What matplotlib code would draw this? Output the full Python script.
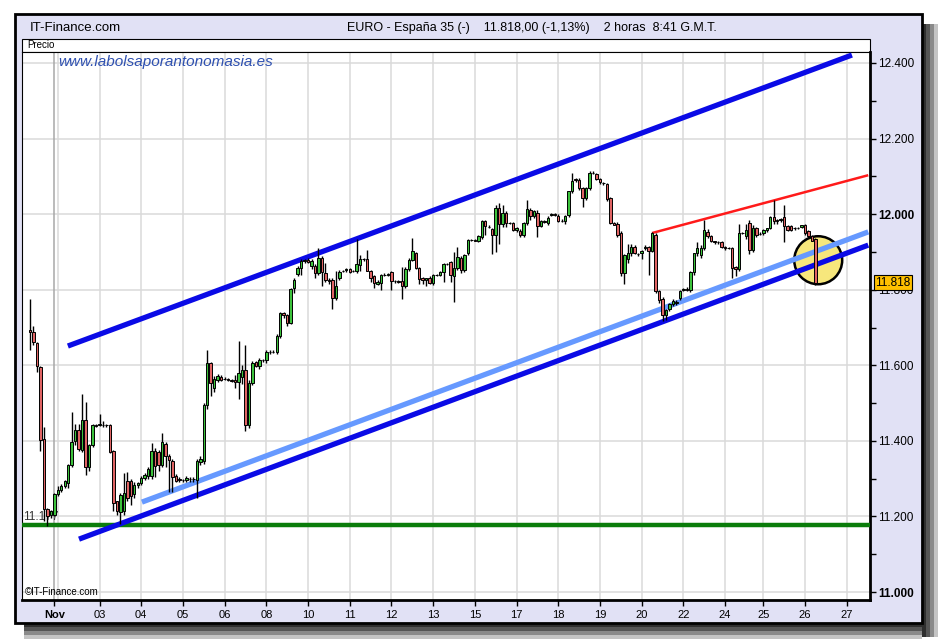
### candlestick chart of the Spanish index (2h bars) with trend channel
import numpy as np
import matplotlib
matplotlib.use('Agg')
import matplotlib.pyplot as plt
from matplotlib.patches import Rectangle, Ellipse
from matplotlib.transforms import blended_transform_factory

# OHLC, one entry per bar
opens = [11693, 11689, 11659, 11596, 11405, 11220, 11203, 11205, 11260, 11271,
         11281, 11288, 11335, 11399, 11428, 11376, 11454, 11332, 11390, 11441,
         11443, 11443, 11441, 11441, 11373, 11240, 11213, 11215, 11295, 11293,
         11259, 11282, 11288, 11301, 11308, 11308, 11373, 11370, 11335, 11393,
         11361, 11348, 11308, 11300, 11297, 11296, 11298, 11300, 11296, 11345,
         11348, 11494, 11606, 11539, 11562, 11570, 11565, 11563, 11560, 11560,
         11556, 11568, 11588, 11441, 11553, 11609, 11598, 11613, 11613, 11634,
         11636, 11634, 11678, 11738, 11733, 11713, 11805, 11842, 11857, 11877,
         11879, 11862, 11862, 11844, 11883, 11844, 11826, 11826, 11777, 11830,
         11850, 11852, 11854, 11850, 11850, 11865, 11880, 11880, 11850, 11835,
         11815, 11817, 11840, 11838, 11846, 11822, 11822, 11822, 11810, 11854,
         11879, 11897, 11857, 11830, 11825, 11830, 11818, 11839, 11838, 11848,
         11869, 11873, 11837, 11858, 11885, 11853, 11897, 11932, 11931, 11928,
         11939, 11981, 11966, 11960, 11944, 12016, 11974, 12004, 11977, 11977,
         11959, 11956, 11945, 11977, 12012, 11995, 12004, 11968, 11982, 11977,
         11998, 12000, 11995, 11983, 11981, 11997, 12060, 12092, 12090, 12069,
         12043, 12070, 12110, 12105, 12092, 12082, 12080, 12043, 11977, 11975,
         11950, 11844, 11880, 11898, 11914, 11895, 11898, 11910, 11912, 11903,
         11946, 11797, 11776, 11733, 11750, 11762, 11766, 11778, 11800, 11802,
         11800, 11846, 11896, 11892, 11910, 11954, 11941, 11928, 11925, 11925,
         11914, 11910, 11910, 11860, 11855, 11950, 11941, 11976, 11905, 11963,
         11948, 11950, 11957, 11963, 11993, 11984, 11984, 11993, 11968, 11968,
         11962, 11963, 11965, 11972, 11955, 11941, 11934]
highs = [11775, 11704, 11662, 11598, 11436, 11222, 11218, 11262, 11280, 11285,
         11296, 11340, 11477, 11446, 11446, 11523, 11503, 11392, 11445, 11444,
         11471, 11452, 11444, 11445, 11376, 11242, 11262, 11314, 11317, 11300,
         11290, 11292, 11306, 11315, 11330, 11395, 11380, 11375, 11420, 11398,
         11365, 11352, 11312, 11305, 11300, 11306, 11304, 11305, 11352, 11360,
         11500, 11640, 11610, 11572, 11578, 11575, 11568, 11566, 11563, 11575,
         11665, 11600, 11655, 11560, 11612, 11612, 11620, 11618, 11640, 11640,
         11640, 11682, 11740, 11742, 11736, 11805, 11830, 11862, 11880, 11882,
         11884, 11880, 11868, 11911, 11890, 11872, 11830, 11830, 11850, 11852,
         11853, 11858, 11858, 11853, 11934, 11892, 11884, 11905, 11853, 11838,
         11825, 11842, 11843, 11843, 11850, 11825, 11825, 11860, 11860, 11885,
         11938, 11900, 11860, 11833, 11832, 11835, 11842, 11842, 11850, 11870,
         11872, 11876, 11900, 11914, 11890, 11895, 11935, 11935, 11934, 11945,
         11985, 11984, 11970, 11963, 12025, 12030, 12025, 12008, 11980, 11980,
         11967, 11960, 11980, 12037, 12015, 12010, 12012, 11985, 11984, 11995,
         12003, 12002, 12000, 11986, 11998, 12062, 12110, 12095, 12095, 12072,
         12072, 12115, 12113, 12108, 12095, 12085, 12083, 12046, 11980, 11978,
         11955, 11895, 11920, 11920, 11918, 11898, 11906, 11918, 11915, 11953,
         11950, 11800, 11780, 11750, 11765, 11775, 11772, 11800, 11805, 11806,
         11850, 11898, 11925, 11918, 11985, 11960, 11945, 11930, 11928, 11928,
         11917, 11913, 11913, 11863, 11975, 11953, 11975, 11985, 11970, 11966,
         11952, 11960, 11963, 11995, 12038, 11988, 11990, 12025, 11972, 11972,
         11965, 11966, 11972, 11975, 11958, 11945, 11937]
lows = [11640, 11655, 11583, 11374, 11189, 11175, 11195, 11200, 11255, 11265,
        11276, 11275, 11330, 11390, 11372, 11370, 11311, 11320, 11385, 11438,
        11440, 11438, 11436, 11368, 11215, 11205, 11180, 11205, 11240, 11230,
        11250, 11276, 11282, 11296, 11300, 11300, 11305, 11320, 11330, 11330,
        11265, 11265, 11290, 11290, 11292, 11290, 11290, 11292, 11250, 11335,
        11340, 11485, 11520, 11530, 11555, 11558, 11560, 11558, 11555, 11540,
        11510, 11550, 11425, 11435, 11548, 11595, 11590, 11610, 11605, 11630,
        11632, 11630, 11672, 11725, 11705, 11708, 11790, 11835, 11840, 11870,
        11872, 11855, 11830, 11840, 11810, 11820, 11815, 11748, 11772, 11825,
        11846, 11848, 11845, 11846, 11845, 11850, 11876, 11850, 11820, 11805,
        11812, 11800, 11836, 11835, 11800, 11818, 11818, 11775, 11805, 11850,
        11875, 11855, 11815, 11815, 11810, 11815, 11812, 11836, 11835, 11820,
        11866, 11820, 11768, 11852, 11845, 11848, 11893, 11929, 11928, 11925,
        11935, 11945, 11963, 11895, 11900, 11920, 11965, 11965, 11974, 11955,
        11952, 11940, 11940, 11972, 11985, 11990, 11940, 11965, 11976, 11972,
        11995, 11996, 11980, 11980, 11975, 11992, 12055, 12086, 12065, 12020,
        12038, 12065, 12107, 12090, 12080, 12078, 12035, 11975, 11970, 11940,
        11835, 11815, 11870, 11890, 11895, 11890, 11880, 11905, 11840, 11900,
        11790, 11765, 11718, 11720, 11745, 11758, 11760, 11772, 11796, 11797,
        11795, 11840, 11890, 11885, 11905, 11938, 11925, 11922, 11922, 11910,
        11905, 11907, 11830, 11835, 11850, 11947, 11935, 11895, 11900, 11940,
        11944, 11945, 11953, 11960, 11975, 11975, 11980, 11925, 11955, 11955,
        11958, 11960, 11962, 11945, 11938, 11928, 11812]
closes = [11688, 11661, 11597, 11403, 11219, 11200, 11214, 11259, 11270, 11281,
          11293, 11335, 11397, 11428, 11379, 11456, 11332, 11388, 11441, 11440,
          11446, 11443, 11441, 11370, 11235, 11215, 11258, 11262, 11250, 11255,
          11282, 11288, 11303, 11310, 11326, 11374, 11334, 11335, 11397, 11361,
          11349, 11304, 11295, 11296, 11297, 11301, 11300, 11298, 11348, 11353,
          11494, 11605, 11552, 11565, 11572, 11562, 11564, 11562, 11558, 11555,
          11579, 11588, 11441, 11553, 11605, 11598, 11614, 11614, 11634, 11636,
          11635, 11678, 11738, 11733, 11713, 11801, 11826, 11857, 11875, 11878,
          11874, 11875, 11844, 11883, 11848, 11825, 11822, 11777, 11810, 11848,
          11850, 11855, 11848, 11850, 11867, 11882, 11881, 11850, 11832, 11817,
          11820, 11839, 11839, 11841, 11822, 11822, 11821, 11810, 11854, 11879,
          11903, 11857, 11828, 11827, 11830, 11819, 11839, 11838, 11848, 11867,
          11869, 11838, 11858, 11887, 11853, 11891, 11932, 11932, 11930, 11941,
          11981, 11968, 11966, 11944, 12016, 11974, 12003, 11977, 11977, 11959,
          11964, 11945, 11977, 12013, 11995, 12008, 11968, 11981, 11979, 11990,
          12001, 11998, 11983, 11983, 11995, 12060, 12087, 12089, 12070, 12043,
          12069, 12109, 12110, 12092, 12085, 12082, 12041, 11977, 11972, 11945,
          11844, 11893, 11898, 11914, 11898, 11895, 11903, 11914, 11903, 11950,
          11797, 11773, 11733, 11746, 11762, 11770, 11768, 11797, 11802, 11799,
          11848, 11896, 11910, 11910, 11958, 11941, 11928, 11925, 11925, 11914,
          11910, 11910, 11857, 11855, 11950, 11950, 11958, 11905, 11963, 11945,
          11948, 11957, 11963, 11993, 11981, 11981, 11988, 11968, 11959, 11959,
          11962, 11963, 11970, 11950, 11941, 11930, 11818]

# session (day) boundaries in bar numbers, and their labels
month_bar = 7
day_bars = [8, 20, 32, 44, 56, 68, 80, 92, 104, 116, 128, 140, 152, 164, 176, 188, 200, 211, 223, 235]
day_labels = ['', '03', '04', '05', '06', '08', '10', '11', '12', '13', '15', '17', '18', '19', '20',
              '22', '24', '25', '26', '27']

# price axis
price_ticks = [11000, 11200, 11400, 11600, 11800, 12000, 12200, 12400]
price_labels = ['11.000', '11.200', '11.400', '11.600', '11.800', '12.000', '12.200', '12.400']

# hand drawn lines: (bar, price) end points
upper_channel = ([10.9, 236.5], [11651, 12421])
lower_channel = ([14.1, 241.2], [11140, 11918])
light_channel = ([32.2, 241.2], [11238, 11953])
red_line = ([179.0, 241.2], [11950, 12103])
support = 11177
last_price = 11818

plain = ['Liberation Sans', 'DejaVu Sans']


def fx(px):
    return px / 940


def fy(py):
    return 1 - py / 640


fig = plt.figure(figsize=(9.4, 6.4), dpi=100)
fig.patch.set_facecolor('white')

# drop shadow
for i, col in enumerate(['#2e2e2e', '#555555', '#8a8a8a', '#c4c4c4']):
    fig.add_artist(Rectangle((fx(922 + 4 * i), fy(637)), 4 / 940, (637 - 24) / 640, zorder=-3,
                             transform=fig.transFigure, facecolor=col, edgecolor='none'))
    fig.add_artist(Rectangle((fx(24), fy(623 + 4 * i) - 4 / 640), (922 - 24) / 940, 4 / 640, zorder=-3,
                             transform=fig.transFigure, facecolor=col, edgecolor='none'))

# lavender panel
fig.add_artist(Rectangle((fx(15), fy(623)), (922 - 15) / 940, (623 - 14) / 640, zorder=-2,
                         transform=fig.transFigure, facecolor='#e1e1f5', edgecolor='black', lw=2))
fig.add_artist(Rectangle((fx(22), fy(52)), (870 - 22) / 940, (52 - 39) / 640, zorder=-1,
                         transform=fig.transFigure, facecolor='white', edgecolor='black', lw=0.8))

fig.text(fx(30), fy(28), 'IT-Finance.com', fontsize=9.5, va='center', family=plain)
fig.text(fx(532), fy(28), 'EURO - España 35 (-)    11.818,00 (-1,13%)    2 horas  8:41 G.M.T.',
         fontsize=9, va='center', ha='center', family=plain)
fig.text(fx(27), fy(45.5), 'Precio', fontsize=7, va='center', family=plain)

ax = fig.add_axes([fx(22), fy(600), (870 - 22) / 940, (600 - 52) / 640])
ax.set_zorder(1)
ax.set_facecolor('white')
ax.set_xlim(-2.3, 241.7)
ax.set_ylim(10979, 12429)

# grid
for p in price_ticks:
    ax.axhline(p, color='#dadada', lw=1.1, zorder=0.5)
for d in day_bars:
    ax.axvline(d, color='#dadada', lw=1.1, zorder=0.5)
ax.axvline(month_bar, color='#a8a8a8', lw=1.1, zorder=0.6)

# candles
bars = np.arange(len(closes))
o = np.array(opens)
c = np.array(closes)
colors = np.where(c >= o, '#3cc23c', '#e06464')
ax.vlines(bars, lows, highs, color='black', lw=1.0, zorder=5)
ax.bar(bars, np.abs(c - o), bottom=np.minimum(o, c), width=0.7, color=colors,
       edgecolor='black', linewidth=0.7, zorder=6)

# circle round the last bar
ax.add_patch(Ellipse((226.8, 11878), 13.8, 127, facecolor='#f7e77c', edgecolor='black', lw=1.8, zorder=2))

# trend lines
ax.axhline(support, color='#0b7d0b', lw=3.2, zorder=3)
ax.plot(*upper_channel, color='#0a0ae6', lw=3.8, solid_capstyle='butt', zorder=3)
ax.plot(*lower_channel, color='#0a0ae6', lw=3.8, solid_capstyle='butt', zorder=3)
ax.plot(*light_channel, color='#6699ff', lw=3.8, solid_capstyle='butt', zorder=3)
ax.plot(*red_line, color='#ff1a1a', lw=1.8, solid_capstyle='butt', zorder=3)

ax.text(-1.9, support + 6, '11.177', fontsize=8.5, va='bottom', color='#333333', family=plain, zorder=1)
ax.text(3 / 848, 8 / 548, '©IT-Finance.com', fontsize=7, va='center', transform=ax.transAxes,
        family=plain)
ax.text(36 / 848, 1 - 10 / 548, 'www.labolsaporantonomasia.es', fontsize=11, style='italic',
        color='#2e50b0', va='center', transform=ax.transAxes, family=plain, zorder=7)

# axes, right side price scale
ax.yaxis.tick_right()
ax.set_yticks(price_ticks)
ax.set_yticklabels(price_labels, family=plain)
ax.set_yticks(np.arange(11100, 12400, 200), minor=True)
ax.tick_params(axis='y', which='both', direction='out', length=4, width=1, labelsize=8.5, pad=2)
for lab in ax.get_yticklabels():
    if lab.get_text() in ('12.000', '11.000'):
        lab.set_fontweight('bold')

ax.set_xticks([month_bar] + day_bars[1:])
ax.set_xticklabels(['Nov'] + day_labels[1:], family=plain)
ax.tick_params(axis='x', direction='out', length=4, width=1, labelsize=8, pad=3)
ax.get_xticklabels()[0].set_fontweight('bold')

for side in ['left', 'top']:
    ax.spines[side].set_linewidth(0.8)
for side in ['right', 'bottom']:
    ax.spines[side].set_linewidth(2)

# last price box sits over the 11.800 label, as on the original
tr = blended_transform_factory(ax.transAxes, ax.transData)
ax.text(1.006, last_price, '11.818', transform=tr, fontsize=8.5, va='center', ha='left', family=plain,
        bbox=dict(boxstyle='square,pad=0.12', facecolor='#ffc000', edgecolor='black', lw=0.8),
        zorder=10, clip_on=False)

fig.savefig('out.png', dpi=100)
